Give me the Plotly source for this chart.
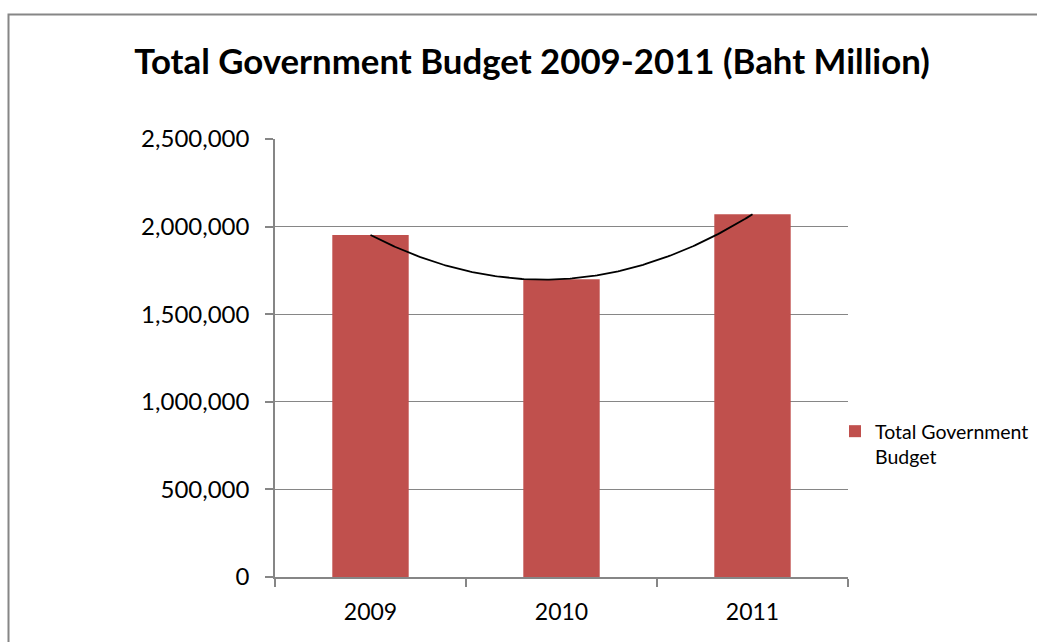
import numpy as np
import plotly.graph_objects as go

# Fiscal-year government budget, Baht million
years = ["2009", "2010", "2011"]
budget = [1951700, 1700000, 2070000]

y_ticks = [0, 500000, 1000000, 1500000, 2000000, 2500000]

BAR_COLOR = "#C0504D"
GRID = "#868686"
FONT = "Lato"

x_pos = np.arange(len(years))

# Second-order polynomial trendline fitted to the bars
coef = np.polyfit(x_pos, budget, 2)
trend_x = np.linspace(x_pos[0], x_pos[-1], 200)
trend_y = np.polyval(coef, trend_x)

fig = go.Figure()
fig.add_trace(go.Bar(
    x=x_pos, y=budget, width=0.4,
    marker=dict(color=BAR_COLOR, line=dict(width=0)),
    name="Total Government<br>Budget",
))
fig.add_trace(go.Scatter(
    x=trend_x, y=trend_y, mode="lines",
    line=dict(color="black", width=1.8),
    showlegend=False, hoverinfo="skip",
))

L, R, T, B = 275, 189, 139, 65
W, H = 1037, 642
pw, ph = W - L - R, H - T - B

fig.update_layout(
    width=W, height=H,
    margin=dict(l=L, r=R, t=T, b=B, autoexpand=False),
    paper_bgcolor="white", plot_bgcolor="white",
    font=dict(family=FONT, color="black"),
    title=dict(
        text="<b>Total Government Budget 2009-2011 (Baht Million)</b>",
        xref="container", x=532 / W, xanchor="center",
        yref="container", y=(H - 62) / H, yanchor="middle",
        font=dict(family=FONT, size=34.8, color="black"),
    ),
    showlegend=True,
    legend=dict(
        x=(835 - L) / pw, xanchor="left",
        y=(577 - 444) / ph, yanchor="middle",
        font=dict(family=FONT, size=19.5, color="black"),
        bgcolor="rgba(0,0,0,0)", itemwidth=30, valign="top",
    ),
    bargap=0.6,
    xaxis=dict(
        range=[-0.5, len(years) - 0.5],
        tickmode="array", tickvals=list(x_pos), ticktext=years,
        ticks="", showgrid=False, zeroline=False,
        showline=True, linecolor=GRID, linewidth=1.5,
        tickfont=dict(family=FONT, size=23, color="black"),
        ticklabelstandoff=14,
        minor=dict(
            tickvals=list(np.arange(-0.5, len(years), 1.0)),
            ticks="outside", ticklen=8, tickcolor=GRID, tickwidth=1.5,
            showgrid=False,
        ),
    ),
    yaxis=dict(
        range=[0, 2500000],
        tickmode="array", tickvals=y_ticks,
        ticktext=[f"{v:,}" for v in y_ticks],
        ticks="outside", ticklen=8, tickcolor=GRID, tickwidth=1.5,
        showgrid=True, gridcolor=GRID, gridwidth=1,
        zeroline=False, showline=True, linecolor=GRID, linewidth=1.5,
        tickfont=dict(family=FONT, size=24, color="black"),
        ticklabelstandoff=11,
    ),
)

# Outer chart frame (runs past the right and bottom edges)
fig.add_shape(
    type="rect", xref="paper", yref="paper",
    x0=(8.5 - L) / pw, x1=(W + 20 - L) / pw,
    y0=-(B + 20) / ph, y1=(H - 14.5 - B) / ph,
    line=dict(color=GRID, width=2), fillcolor="rgba(0,0,0,0)",
    layer="below",
)

fig.write_html("out.html")
